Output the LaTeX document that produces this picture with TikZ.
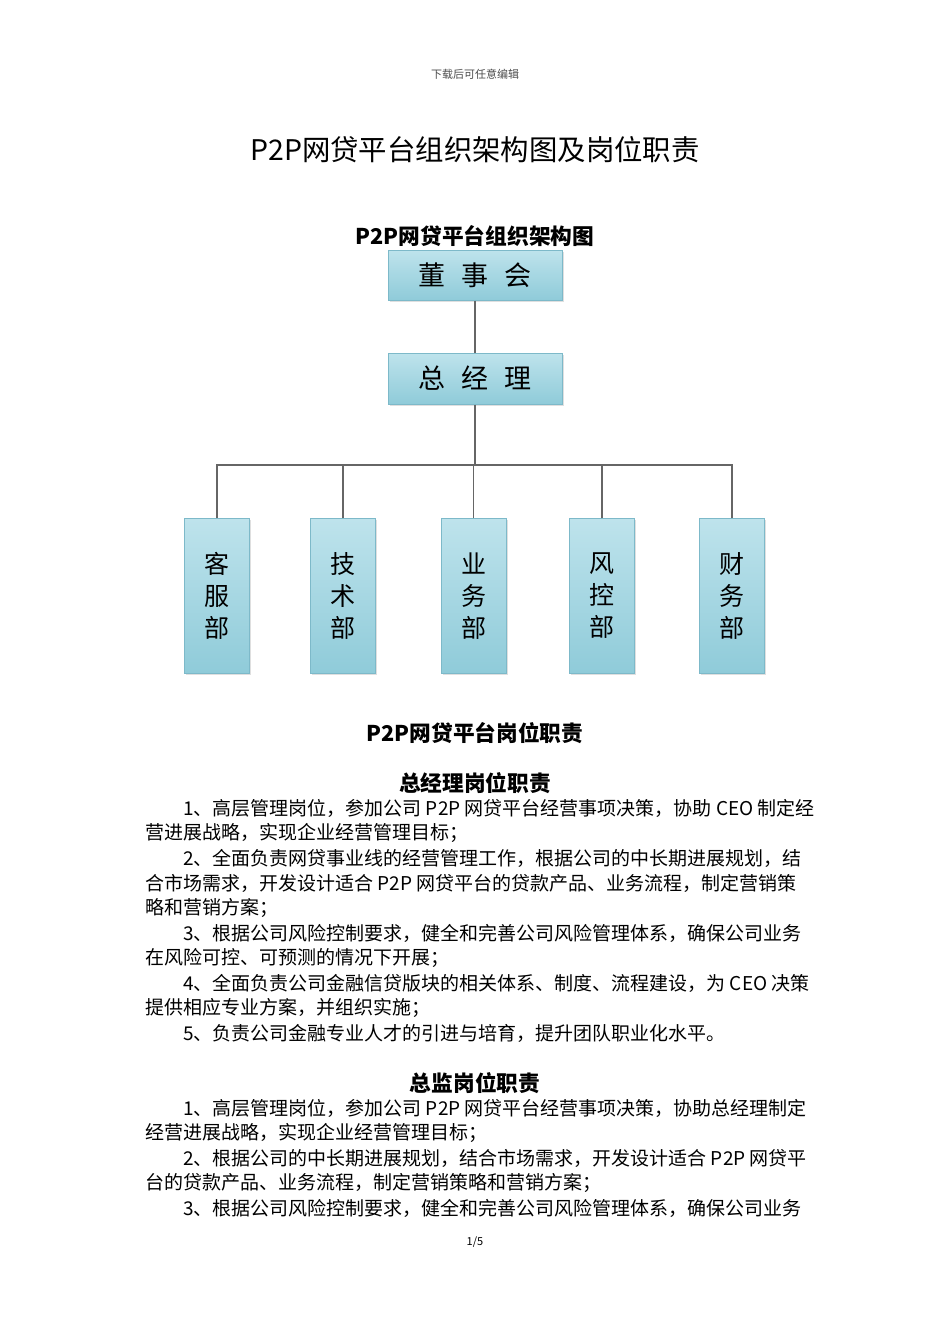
\documentclass[tikz,border=0pt]{standalone}
\usepackage{fontspec}
\setmainfont{Liberation Serif}
\newfontfamily\cjk{Noto Sans CJK SC}
\usetikzlibrary{shadows}
\definecolor{bxtop}{HTML}{BEE3EC}
\definecolor{bxbot}{HTML}{8FCBD9}
\definecolor{bxline}{HTML}{7DB9C9}
\tikzset{
 orgbox/.style={draw=bxline,line width=1pt,top color=bxtop,bottom color=bxbot,inner sep=0pt,font=\cjk\fontsize{27}{32}\selectfont,drop shadow={shadow xshift=1.5pt,shadow yshift=-1.5pt,opacity=0.25}},
 link/.style={draw=black!60,line width=1.2pt},
 bodyline/.style={anchor=west,inner sep=0pt,font=\cjk\fontsize{19}{22}\selectfont},
 heading/.style={inner sep=0pt,font=\cjk\bfseries\fontsize{21.7}{24}\selectfont},
}
\begin{document}
\begin{tikzpicture}[x=1pt,y=-1pt]
\useasboundingbox[fill=white] (0,0) rectangle (950,1344);
\node[inner sep=0pt,font=\cjk\fontsize{11}{13}\selectfont,text=black!70] (hdr) at (475,74) {下载后可任意编辑};
\node[inner sep=0pt,font=\cjk\fontsize{28.4}{32}\selectfont] (title) at (475,150) {P2P网贷平台组织架构图及岗位职责};
\node[heading] (t1) at (475,236) {P2P网贷平台组织架构图};
\node[orgbox,minimum width=174pt,minimum height=50pt] (board) at (475,275) {董\hspace{0.6em}事\hspace{0.6em}会};
\node[orgbox,minimum width=174pt,minimum height=51pt] (gm) at (475,378.5) {总\hspace{0.6em}经\hspace{0.6em}理};
\foreach \n/\x/\t in {kf/217/{客\\服\\部},js/343/{技\\术\\部},yw/473.5/{业\\务\\部},fk/602/{风\\控\\部},cw/732/{财\\务\\部}}{
 \node[orgbox,minimum width=65pt,minimum height=155pt,align=center,font=\cjk\fontsize{25}{32}\selectfont] (\n) at (\x,596) {\t};
}
\coordinate (bus) at (475,465);
\draw[link] (board) -- (gm);
\draw[link] (gm) -- (bus);
\draw[link] (kf.north) |- (bus) -| (cw.north);
\foreach \n in {js,yw,fk}{\draw[link] (\n.north) -- (\n.north |- bus);}
\node[heading] (t2) at (475,733) {P2P网贷平台岗位职责};
\node[heading] (t3) at (475,783) {总经理岗位职责};
\node[bodyline] (a1) at (183,808) {1、高层管理岗位，参加公司 P2P 网贷平台经营事项决策，协助 CEO 制定经};
\node[bodyline] (a2) at (145,833) {营进展战略，实现企业经营管理目标；};
\node[bodyline] (a3) at (183,858) {2、全面负责网贷事业线的经营管理工作，根据公司的中长期进展规划，结};
\node[bodyline] (a4) at (145,883) {合市场需求，开发设计适合 P2P 网贷平台的贷款产品、业务流程，制定营销策};
\node[bodyline] (a5) at (145,908) {略和营销方案；};
\node[bodyline] (a6) at (183,933) {3、根据公司风险控制要求，健全和完善公司风险管理体系，确保公司业务};
\node[bodyline] (a7) at (145,958) {在风险可控、可预测的情况下开展；};
\node[bodyline] (a8) at (183,983) {4、全面负责公司金融信贷版块的相关体系、制度、流程建设，为 CEO 决策};
\node[bodyline] (a9) at (145,1008) {提供相应专业方案，并组织实施；};
\node[bodyline] (a10) at (183,1033) {5、负责公司金融专业人才的引进与培育，提升团队职业化水平。};
\node[heading] (t4) at (475,1083) {总监岗位职责};
\node[bodyline] (b1) at (183,1108) {1、高层管理岗位，参加公司 P2P 网贷平台经营事项决策，协助总经理制定};
\node[bodyline] (b2) at (145,1133) {经营进展战略，实现企业经营管理目标；};
\node[bodyline] (b3) at (183,1158) {2、根据公司的中长期进展规划，结合市场需求，开发设计适合 P2P 网贷平};
\node[bodyline] (b4) at (145,1183) {台的贷款产品、业务流程，制定营销策略和营销方案；};
\node[bodyline] (b5) at (183,1208) {3、根据公司风险控制要求，健全和完善公司风险管理体系，确保公司业务};
\node[inner sep=0pt,font=\cjk\fontsize{11}{13}\selectfont] (pg) at (475,1242) {1/5};
\end{tikzpicture}
\end{document}
